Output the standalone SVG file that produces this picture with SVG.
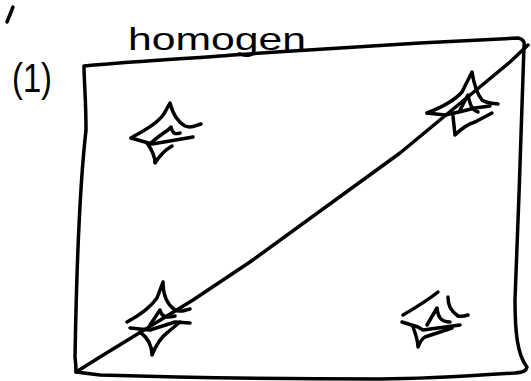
<svg xmlns="http://www.w3.org/2000/svg" width="531" height="381" viewBox="0 0 531 381">
<style>
.ink{fill:none;stroke:#000;stroke-width:3.5;stroke-linecap:round;stroke-linejoin:round}
.hand{font-family:"Liberation Sans","DejaVu Sans",sans-serif;fill:#000}
</style>
<rect width="531" height="381" fill="#fff"/>
<g id="labels">
<path class="ink" d="M13,7 L7,22"/>
<text class="hand" x="12" y="92" font-size="40" textLength="40" lengthAdjust="spacingAndGlyphs">(1)</text>
<text class="hand" x="128" y="50" font-size="32" textLength="178" lengthAdjust="spacingAndGlyphs">homogen</text>
</g>
<g id="frame">
<path class="ink" d="M84,66 C150,60 200,58 233,55 C290,51 320,49 420,43 L518,38 C523,39 525,42 524,46 C522,120 518,220 515,300 C515,330 517,355 527,367 C526,371 524,372 515,373 C470,376 420,379 380,379 C300,379 200,378 100,375 L76,372 C76,370 76,365 75,357 C76,300 78,200 86,130 C86,100 84,80 84,66"/>
</g>
<g id="connectors">
<path class="ink" d="M76,372 L100,357 L193,300 L250,262 L400,153 L510,62 L528,45"/>
</g>
<g id="star1">
<path class="ink" d="M131,138 C145,130 160,122 165,112 L170,103 C173,115 178,122 185,126 C192,129 196,125 201,124"/>
<path class="ink" d="M131,138 L152,144 L170,141 L193,137"/>
<path class="ink" d="M147,143 C152,150 155,156 155,163 C160,155 165,150 172,146"/>
<path class="ink" d="M150,144 C156,138 162,134 168,130 L171,127 C173,135 176,134 180,133"/>
</g>
<g id="star2">
<path class="ink" d="M427,113 C440,108 455,100 462,92 L472,72 C474,85 478,95 482,100 C488,104 493,103 498,104"/>
<path class="ink" d="M427,113 L445,115 Q460,112 475,108 L490,106"/>
<path class="ink" d="M453,116 L455,135 C462,128 468,124 475,122 L492,113"/>
<path class="ink" d="M460,110 L468,95 C470,105 472,110 478,112"/>
</g>
<g id="star3">
<path class="ink" d="M127,322 C140,315 150,308 157,298 L163,282 C163,295 168,305 175,310 C180,313 185,310 190,309"/>
<path class="ink" d="M130,328 L150,330 L175,322 L190,323"/>
<path class="ink" d="M140,332 C148,338 152,345 152,355 C156,345 160,338 168,332 L180,322"/>
<path class="ink" d="M150,325 L160,310 C162,318 168,318 175,316"/>
</g>
<g id="star4">
<path class="ink" d="M403,315 C415,308 428,300 438,292"/>
<path class="ink" d="M448,297 C448,305 450,310 458,316 C462,317 465,316 468,315"/>
<path class="ink" d="M402,322 L418,327 L423,330 L460,325"/>
<path class="ink" d="M413,327 C416,335 418,342 418,347 C420,342 423,338 425,337 L452,328"/>
<path class="ink" d="M427,325 L437,308 C438,316 440,322 450,322"/>
</g>
</svg>
